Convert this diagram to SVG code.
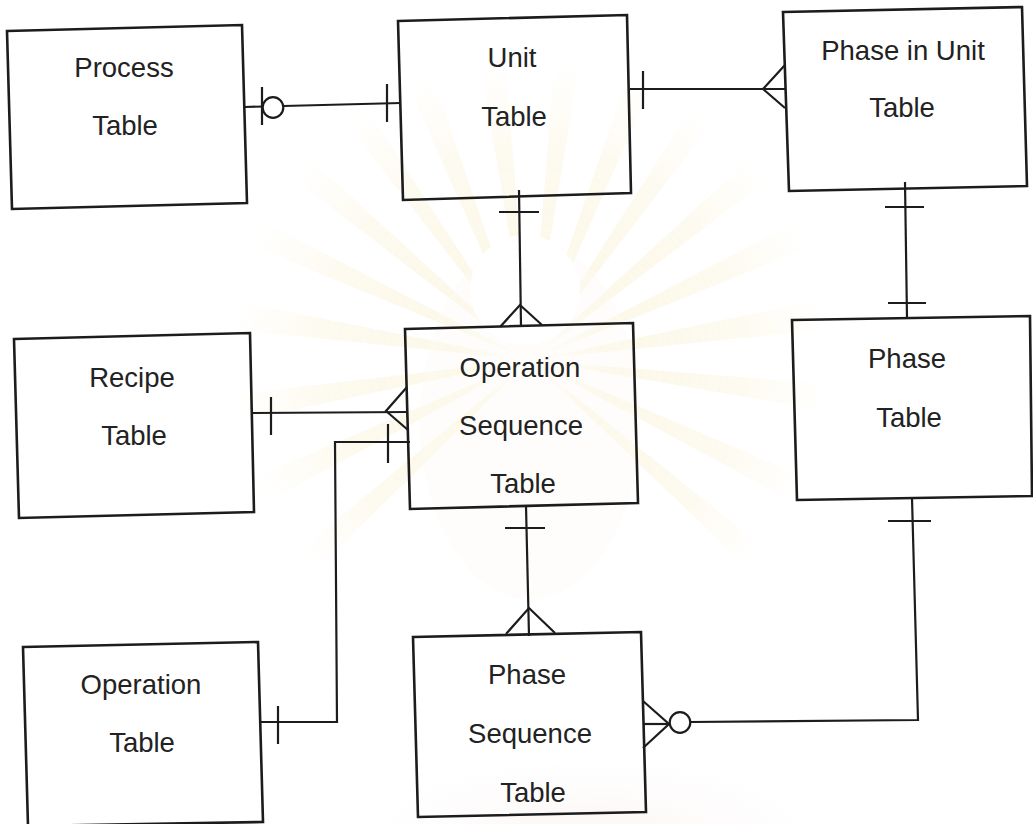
<svg xmlns="http://www.w3.org/2000/svg" width="1033" height="824" viewBox="0 0 1033 824">
  <style>
    .box { fill: none; stroke: #1c1c1c; stroke-width: 2.6; stroke-linejoin: miter; }
    .ln { fill: none; stroke: #1c1c1c; stroke-width: 2.2; stroke-linecap: butt; stroke-linejoin: miter; }
    .ring { fill: #ffffff; stroke: #1c1c1c; stroke-width: 2.2; }
    .lbl { font-family: "Liberation Sans", Arial, Helvetica, sans-serif; font-size: 27.5px; fill: #222222; text-anchor: middle; }
  </style>
  <defs>
    <radialGradient id="fade" cx="530" cy="360" r="300" gradientUnits="userSpaceOnUse">
      <stop offset="0" stop-color="#fff" stop-opacity="0"/>
      <stop offset="0.25" stop-color="#fff" stop-opacity="0.9"/>
      <stop offset="0.7" stop-color="#fff" stop-opacity="0.6"/>
      <stop offset="1" stop-color="#fff" stop-opacity="0"/>
    </radialGradient>
    <mask id="burstMask">
      <rect x="0" y="0" width="1033" height="824" fill="url(#fade)"/>
    </mask>
    <radialGradient id="blush" cx="0.5" cy="0.5" r="0.5">
      <stop offset="0" stop-color="#f6dede" stop-opacity="0.9"/>
      <stop offset="1" stop-color="#f6dede" stop-opacity="0"/>
    </radialGradient>
  </defs>

  <rect x="0" y="0" width="1033" height="824" fill="#ffffff"/>

  <!-- faint seal watermark behind the centre of the page -->
  <g id="watermark" opacity="0.28">
    <g mask="url(#burstMask)" fill="#f3e2a4">
      <path d="M530 360 L 820 300 L 820 330 Z"/>
      <path d="M530 360 L 800 220 L 812 246 Z"/>
      <path d="M530 360 L 760 150 L 778 172 Z"/>
      <path d="M530 360 L 700 95 L 722 110 Z"/>
      <path d="M530 360 L 630 70 L 656 76 Z"/>
      <path d="M530 360 L 555 60 L 580 62 Z"/>
      <path d="M530 360 L 480 62 L 505 60 Z"/>
      <path d="M530 360 L 405 78 L 430 70 Z"/>
      <path d="M530 360 L 338 112 L 360 98 Z"/>
      <path d="M530 360 L 282 170 L 300 150 Z"/>
      <path d="M530 360 L 248 244 L 260 220 Z"/>
      <path d="M530 360 L 236 330 L 240 302 Z"/>
      <path d="M530 360 L 244 420 L 238 394 Z"/>
      <path d="M530 360 L 270 500 L 258 476 Z"/>
      <path d="M530 360 L 316 570 L 300 550 Z"/>
      <path d="M530 360 L 790 500 L 802 476 Z"/>
      <path d="M530 360 L 822 410 L 826 384 Z"/>
      <path d="M530 360 L 748 568 L 764 548 Z"/>
    </g>
    <ellipse cx="530" cy="420" rx="110" ry="180" fill="#f6efd6" opacity="0.35"/>
    <ellipse cx="525" cy="290" rx="55" ry="55" fill="#ffffff"/>
    <ellipse cx="590" cy="830" rx="220" ry="70" fill="url(#blush)"/>
  </g>

  <!-- relationship lines with ER cardinality ends -->
  <g id="connectors">
    <!-- Process (zero or one) to Unit (one) -->
    <line class="ln" x1="245" y1="107" x2="401" y2="103"/>
    <line class="ln" x1="262" y1="87" x2="262" y2="125"/>
    <circle class="ring" cx="273" cy="107.5" r="10.3"/>
    <line class="ln" x1="387" y1="84" x2="387" y2="122"/>

    <!-- Unit (one) to Phase in Unit (many) -->
    <line class="ln" x1="630" y1="89" x2="786" y2="89"/>
    <line class="ln" x1="643" y1="71" x2="643" y2="109"/>
    <polyline class="ln" points="785,65 763,89 785,108"/>

    <!-- Phase in Unit (one) to Phase (one) -->
    <line class="ln" x1="905" y1="182" x2="907" y2="318"/>
    <line class="ln" x1="885" y1="207" x2="924" y2="207"/>
    <line class="ln" x1="888" y1="303" x2="926" y2="303"/>

    <!-- Unit (one) to Operation Sequence (many) -->
    <line class="ln" x1="519" y1="190" x2="521" y2="326"/>
    <line class="ln" x1="499" y1="212" x2="539" y2="212"/>
    <polyline class="ln" points="500,327 520,305 542,325"/>

    <!-- Recipe (one) to Operation Sequence (many) -->
    <line class="ln" x1="253" y1="413" x2="408" y2="412"/>
    <line class="ln" x1="271" y1="397" x2="271" y2="435"/>
    <polyline class="ln" points="407,387 386,411 408,430"/>

    <!-- Operation (one) to Operation Sequence -->
    <polyline class="ln" points="410,442 335,442 337,722 261,722"/>
    <line class="ln" x1="388" y1="424" x2="388" y2="463"/>
    <line class="ln" x1="278" y1="706" x2="278" y2="744"/>

    <!-- Operation Sequence (one) to Phase Sequence (many) -->
    <line class="ln" x1="526" y1="506" x2="529" y2="636"/>
    <line class="ln" x1="505" y1="528" x2="545" y2="528"/>
    <polyline class="ln" points="506,634 529,608 555,633"/>

    <!-- Phase (one) to Phase Sequence (zero or many) -->
    <polyline class="ln" points="912,498 918,720 690,722"/>
    <line class="ln" x1="888" y1="521" x2="931" y2="521"/>
    <line class="ln" x1="643" y1="724" x2="670" y2="724"/>
    <polyline class="ln" points="643,701 669,724 643,748"/>
    <circle class="ring" cx="680" cy="722.5" r="10.3"/>
  </g>

  <g id="process-table">
    <polygon class="box" points="7,31 242,25 247,203 12,209"/>
    <text class="lbl" x="124" y="77">Process</text>
    <text class="lbl" x="125" y="135">Table</text>
  </g>

  <g id="unit-table">
    <polygon class="box" points="398,21 627,15 631,193 403,200"/>
    <text class="lbl" x="512" y="67">Unit</text>
    <text class="lbl" x="514" y="126">Table</text>
  </g>

  <g id="phase-in-unit-table">
    <polygon class="box" points="783,12 1022,7 1027,186 789,191"/>
    <text class="lbl" x="903" y="60">Phase in Unit</text>
    <text class="lbl" x="902" y="117">Table</text>
  </g>

  <g id="recipe-table">
    <polygon class="box" points="14,339 250,333 254,512 19,518"/>
    <text class="lbl" x="132" y="387">Recipe</text>
    <text class="lbl" x="134" y="445">Table</text>
  </g>

  <g id="operation-sequence-table">
    <polygon class="box" points="405,329 633,323 638,503 410,509"/>
    <text class="lbl" x="520" y="377">Operation</text>
    <text class="lbl" x="521" y="435">Sequence</text>
    <text class="lbl" x="523" y="493">Table</text>
  </g>

  <g id="phase-table">
    <polygon class="box" points="792,320 1030,316 1032,496 797,500"/>
    <text class="lbl" x="907" y="368">Phase</text>
    <text class="lbl" x="909" y="427">Table</text>
  </g>

  <g id="operation-table">
    <polygon class="box" points="23,647 258,642 263,822 28,826"/>
    <text class="lbl" x="141" y="694">Operation</text>
    <text class="lbl" x="142" y="752">Table</text>
  </g>

  <g id="phase-sequence-table">
    <polygon class="box" points="413,637 641,632 646,812 418,817"/>
    <text class="lbl" x="527" y="684">Phase</text>
    <text class="lbl" x="530" y="743">Sequence</text>
    <text class="lbl" x="533" y="802">Table</text>
  </g>
</svg>
